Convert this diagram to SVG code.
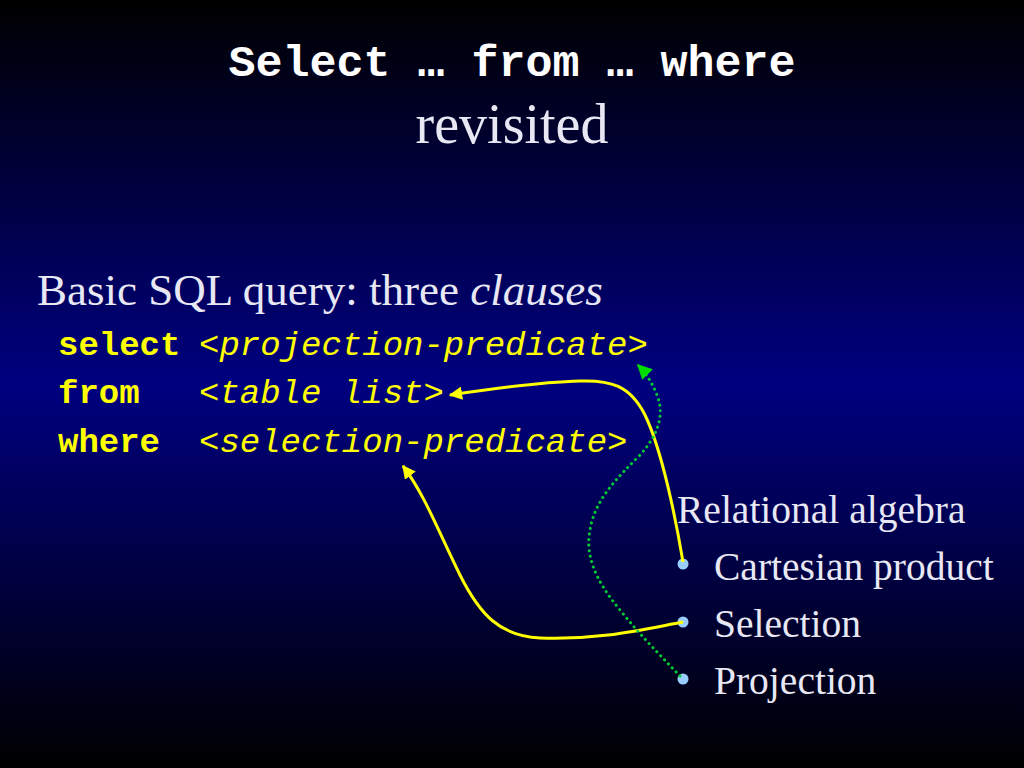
<svg xmlns="http://www.w3.org/2000/svg" width="1024" height="768" viewBox="0 0 1024 768">
<defs>
<linearGradient id="bg" x1="0" y1="0" x2="0" y2="1">
<stop offset="0" stop-color="#000000"/>
<stop offset="0.5" stop-color="#000080"/>
<stop offset="1" stop-color="#000000"/>
</linearGradient>
<marker id="ay" viewBox="0 0 10 10" refX="9" refY="5" markerWidth="4.5" markerHeight="4.5" orient="auto" markerUnits="strokeWidth">
<path d="M0,0 L10,5 L0,10 z" fill="#ffff00"/>
</marker>
<marker id="ag" viewBox="0 0 10 10" refX="9" refY="5" markerWidth="5" markerHeight="5" orient="auto" markerUnits="strokeWidth">
<path d="M0,0 L10,5 L0,10 z" fill="#00dd00"/>
</marker>
<style>
.title{font-family:"Liberation Mono",monospace;font-weight:bold;font-size:45px;fill:#ffffff}
.serif{font-family:"Liberation Serif",serif;fill:#e8e8f4}
.kw{font-family:"Liberation Mono",monospace;font-weight:bold;font-size:34px;fill:#ffff00}
.arg{font-family:"Liberation Mono",monospace;font-style:italic;font-size:34px;fill:#ffff00}
.yl{fill:none;stroke:#ffff00;stroke-width:3}
.gr{fill:none;stroke:#00cc33;stroke-width:3;stroke-dasharray:0.1 5.5;stroke-linecap:round}
.bul{fill:#99ccff}
</style>
</defs>
<rect width="1024" height="768" fill="url(#bg)"/>
<g id="title">
<text class="title" x="512" y="76" text-anchor="middle">Select … from … where</text>
<text class="serif" x="512" y="143" text-anchor="middle" font-size="56" fill="#ffffff">revisited</text>
</g>
<g id="heading">
<text class="serif" x="37" y="305" font-size="45">Basic SQL query: three <tspan font-style="italic">clauses</tspan></text>
</g>
<g id="select-line">
<text class="kw" x="58" y="355">select</text>
<text class="arg" x="199" y="355">&lt;projection-predicate&gt;</text>
</g>
<g id="from-line">
<text class="kw" x="58" y="403">from</text>
<text class="arg" x="199" y="403">&lt;table list&gt;</text>
</g>
<g id="where-line">
<text class="kw" x="58" y="452">where</text>
<text class="arg" x="199" y="452">&lt;selection-predicate&gt;</text>
</g>
<g id="relational-algebra">
<text class="serif" x="677" y="523" font-size="39.5">Relational algebra</text>
</g>
<g id="cartesian">
<circle class="bul" cx="683" cy="564" r="5.5"/>
<text class="serif" x="714" y="580" font-size="39.5">Cartesian product</text>
</g>
<g id="selection">
<circle class="bul" cx="683" cy="622" r="5.5"/>
<text class="serif" x="714" y="637" font-size="39.5">Selection</text>
</g>
<g id="projection">
<circle class="bul" cx="683" cy="679" r="5.5"/>
<text class="serif" x="714" y="694" font-size="39.5">Projection</text>
</g>
<g id="connectors">
<path class="yl" d="M683,562 C676,520 662,450 645,415 C630,385 610,380 580,381 C540,382 490,389 450,395" marker-end="url(#ay)"/>
<path class="yl" d="M683,622 C640,630 600,640 540,638 C500,636 480,615 460,575 C440,535 425,495 403,466" marker-end="url(#ay)"/>
<path class="gr" d="M680,676 C660,655 640,635 620,610 C595,580 585,555 590,530 C595,500 615,480 640,455 C658,435 665,415 657,395 C652,382 645,372 638,365" marker-end="url(#ag)"/>
</g>
</svg>
